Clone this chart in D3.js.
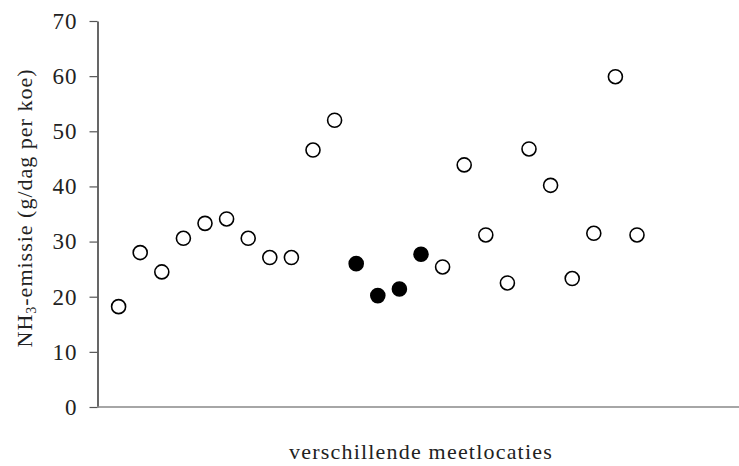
<!DOCTYPE html>
<html><head><meta charset="utf-8">
<script src="https://cdn.jsdelivr.net/npm/d3@7"></script>
<style>body{margin:0;background:#fff}svg{display:block}</style>
</head><body>
<svg id="c" width="739" height="466"></svg>
<script>
const locations = d3.range(1, 26);
const emission = [18.2, 28.0, 24.5, 30.6, 33.3, 34.1, 30.6, 27.1, 27.1, 46.6, 52.0, 26.0, 20.2, 21.4, 27.7, 25.4, 43.9, 31.2, 22.5, 46.8, 40.2, 23.3, 31.5, 59.9, 31.2];
const filled = [false,false,false,false,false,false,false,false,false,false,false,true,true,true,true,false,false,false,false,false,false,false,false,false,false];
const yTicks = [0, 10, 20, 30, 40, 50, 60, 70];
const xLabel = "verschillende meetlocaties";

const svg = d3.select("#c");
const font = "'Liberation Serif','Times New Roman',serif";
const x = d3.scaleLinear().domain([0, 30]).range([97, 97 + 30 * 21.6]);
const y = d3.scaleLinear().domain([0, 70]).range([407, 21]);

// y axis
const ya = svg.append("g").attr("transform", "translate(97.5,0)")
  .call(d3.axisLeft(y).tickValues(yTicks).tickSize(8).tickPadding(12).tickSizeOuter(0));
ya.select(".domain").attr("stroke", "#000").attr("stroke-width", 1.2);
ya.selectAll(".tick line").attr("stroke", "#555").attr("stroke-width", 1.2);
ya.selectAll("text").attr("font-family", font).attr("font-size", 23).attr("letter-spacing", 1).attr("fill", "#222");

// x axis line
svg.append("line").attr("x1", 97).attr("x2", 739).attr("y1", 407).attr("y2", 407)
  .attr("stroke", "#888").attr("stroke-width", 1.6);

// points
svg.append("g").selectAll("circle").data(locations).join("circle")
  .attr("cx", (d) => x(d))
  .attr("cy", (d, i) => y(emission[i]))
  .attr("r", 7)
  .attr("fill", (d, i) => filled[i] ? "#000" : "#fff")
  .attr("stroke", "#000").attr("stroke-width", 1.6);

// y label
const yl = svg.append("text").attr("transform", "translate(32,208) rotate(-90)")
  .attr("text-anchor", "middle").attr("font-family", font).attr("font-size", 22)
  .attr("letter-spacing", 1).attr("fill", "#222");
yl.append("tspan").text("NH");
yl.append("tspan").attr("font-size", 14).attr("dy", 4).text("3");
yl.append("tspan").attr("dy", -4).text("-emissie (g/dag per koe)");

// x label
svg.append("text").attr("x", 421).attr("y", 459).attr("text-anchor", "middle")
  .attr("font-family", font).attr("font-size", 22).attr("letter-spacing", 1.2)
  .attr("fill", "#222").text(xLabel);
</script>
</body></html>
